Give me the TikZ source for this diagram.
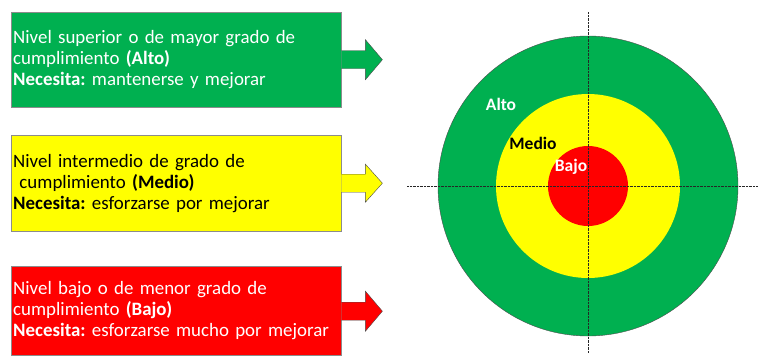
\documentclass[tikz,border=0pt]{standalone}
\usepackage{fontspec}
\setmainfont{Carlito}
\usepackage{tikz}
\usetikzlibrary{calc}

\definecolor{verde}{HTML}{00B050}
\definecolor{amarillo}{HTML}{FFFF00}
\definecolor{rojo}{HTML}{FF0000}

\tikzset{
    caja/.style={draw=black!45, thin, anchor=north west, minimum width=330pt, text width=326pt,
        inner sep=2pt, align=left, font=\fontsize{18.9}{21}\selectfont},
    flecha/.style={draw=black!70, thin},
    nivel/.style={font=\fontsize{17.5}{19}\selectfont\bfseries, inner sep=0pt}
}

\begin{document}
\frenchspacing
\begin{tikzpicture}[x=1pt,y=-1pt]
        \useasboundingbox (0,0) rectangle (759,356);

        % Boxes with their description
        \node[caja, fill=verde, text=white, minimum height=95pt] (alto) at (11,12)
            {Nivel superior o de mayor grado de\\cumplimiento \textbf{(Alto)}\\\textbf{Necesita:} mantenerse y mejorar};
        \node[caja, fill=amarillo, text=black, minimum height=96pt] (medio) at (11,135)
            {Nivel intermedio de grado de\\\ cumplimiento \textbf{(Medio)}\\\textbf{Necesita:} esforzarse por mejorar};
        \node[caja, fill=rojo, text=white, minimum height=89pt] (bajo) at (11,266)
            {Nivel bajo o de menor grado de\\cumplimiento \textbf{(Bajo)}\\\textbf{Necesita:} esforzarse mucho por mejorar};

        % Block arrows
        \draw[flecha, fill=verde] ($(alto.east)+(0,-9)$) -- ++(24,0) -- ++(0,-11) -- ++(17,20)
            -- ++(-17,20) -- ++(0,-11) -- ++(-24,0);
        \draw[flecha, fill=amarillo] ($(medio.east)+(0,-9)$) -- ++(24,0) -- ++(0,-10) -- ++(17,19)
            -- ++(-17,19) -- ++(0,-10) -- ++(-24,0);
        \draw[flecha, fill=rojo] ($(bajo.east)+(0,-8.5)$) -- ++(24,0) -- ++(0,-11) -- ++(17,20)
            -- ++(-17,20) -- ++(0,-11) -- ++(-24,0);

        % Target
        \node[circle, draw=black!70, thin, fill=verde, minimum size=300pt, inner sep=0pt] (ext) at (588,186) {};
        \node[circle, fill=amarillo, minimum size=184pt, inner sep=0pt] (med) at (ext.center) {};
        \node[circle, fill=rojo, minimum size=80pt, inner sep=0pt] (int) at (ext.center) {};

        % Axes
        \coordinate (izq) at (407,186);
        \coordinate (der) at (758,186);
        \coordinate (arr) at (588,12);
        \coordinate (aba) at (588,353);
        \draw[densely dotted, black!85, thin] (izq) -- (der);
        \draw[densely dotted, black!85, thin] (arr) -- (aba);

        % Labels
        \node[nivel, text=white] (lalto) at (501,104) {Alto};
        \node[nivel, text=black] (lmedio) at (533,143) {Medio};
        \node[nivel, text=white] (lbajo) at (571,167) {Bajo};

    \end{tikzpicture}
\end{document}
